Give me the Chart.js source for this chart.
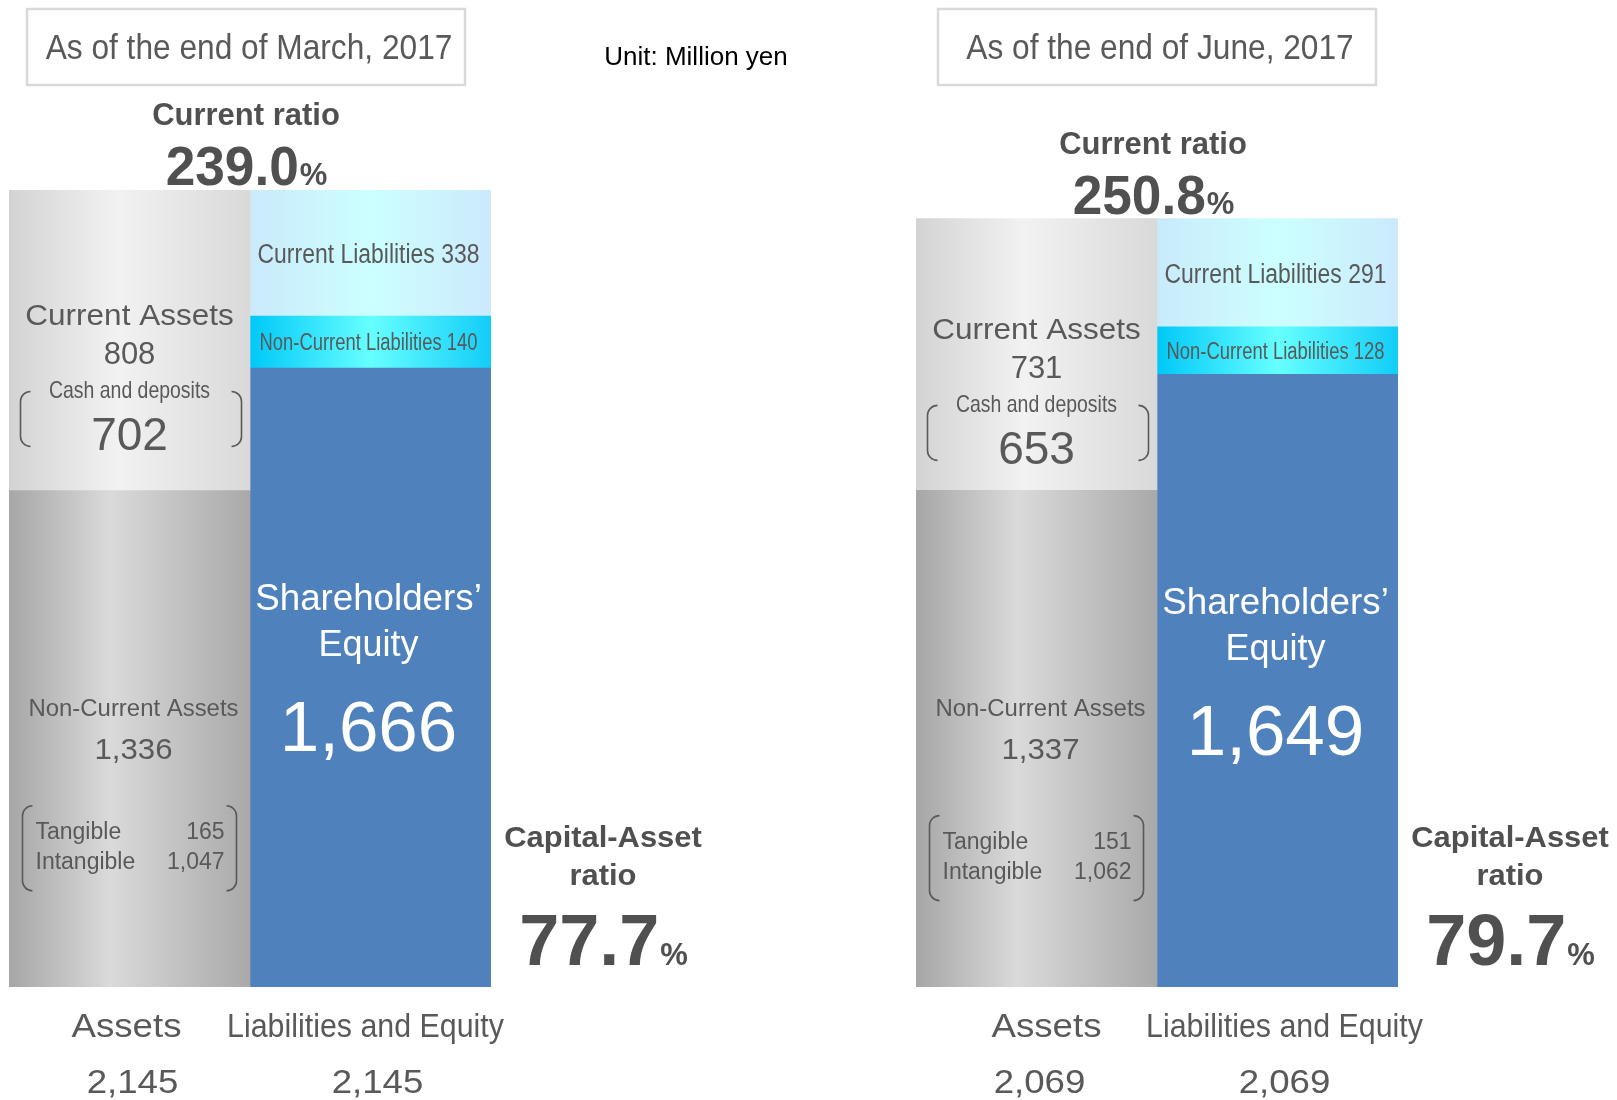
<!DOCTYPE html>
<html>
<head>
<meta charset="utf-8">
<title>Balance sheet - March / June 2017</title>
<script src="https://cdn.jsdelivr.net/npm/chart.js@4.4.1/dist/chart.umd.min.js"></script>
<style>
    body { margin: 0; background: #ffffff; }
    #wrap { position: relative; width: 1617px; height: 1100px; }
    canvas { position: absolute; left: 0; top: 0; }
</style>
</head>
<body>
<div id="wrap">
    <canvas id="march" width="1617" height="1100"></canvas>
    <canvas id="june" width="1617" height="1100"></canvas>
</div>
<script>
// Data (Unit: Million yen)
const categories = ['Assets', 'Liabilities and Equity'];
const periods = ['As of the end of March, 2017', 'As of the end of June, 2017'];
const currentAssets = [808, 731];
const cashAndDeposits = [702, 653];
const nonCurrentAssets = [1336, 1337];
const tangibleAssets = [165, 151];
const intangibleAssets = [1047, 1062];
const currentLiabilities = [338, 291];
const nonCurrentLiabilities = [140, 128];
const shareholdersEquity = [1666, 1649];
const totals = [2145, 2069];
const currentRatio = [239.0, 250.8];
const capitalAssetRatio = [77.7, 79.7];
const unitLabel = 'Unit: Million yen';

// Layout of the two panels (page pixels)
const panelBox = [
    { left: 9, right: 491, titleShift: 0, bracketShift: 0, captionShift: [-3, -5] },
    { left: 916, right: 1398, titleShift: 4, bracketShift: 10, captionShift: [10, 7] }
];
const plotTop = 190;
const plotBottom = 987;

const FONT = '"Liberation Sans", Arial, sans-serif';
const GRAY = '#595959';
const DARK = '#505050';

// gradient stops for the "cylinder" look of each block
const STOPS = {
    currentAssets: [[0, '#d3d3d3'], [0.45, '#f2f2f2'], [1, '#d9d9d9']],
    nonCurrentAssets: [[0, '#a6a6a6'], [0.42, '#dadada'], [1, '#a9a9a9']],
    currentLiabilities: [[0, '#caeafb'], [0.5, '#ccffff'], [1, '#cbeafc']],
    nonCurrentLiabilities: [[0, '#00c8f8'], [0.5, '#66ffff'], [1, '#12cdf8']]
};

function gradientFill(stops, fallback) {
    return function(c) {
        const chart = c.chart;
        const xs = chart.scales.x;
        if (!chart.chartArea || !xs) return fallback;
        const half = (xs.right - xs.left) / categories.length / 2;
        const cx = xs.getPixelForValue(c.dataIndex);
        const g = chart.ctx.createLinearGradient(cx - half, 0, cx + half, 0);
        stops.forEach(s => g.addColorStop(s[0], s[1]));
        return g;
    };
}

function fmt(n) {
    return n.toLocaleString('en-US');
}

// text with optional horizontal squeeze / stretch
function txt(ctx, s, x, y, o) {
    ctx.save();
    ctx.font = (o.bold ? 'bold ' : '') + o.size + 'px ' + FONT;
    ctx.fillStyle = o.color || GRAY;
    ctx.textBaseline = 'alphabetic';
    ctx.textAlign = o.align || 'center';
    ctx.translate(x, y);
    ctx.scale(o.sx || 1, 1);
    ctx.fillText(s, 0, 0);
    ctx.restore();
}

function textWidth(ctx, s, size, bold, sx) {
    ctx.save();
    ctx.font = (bold ? 'bold ' : '') + size + 'px ' + FONT;
    const w = ctx.measureText(s).width * (sx || 1);
    ctx.restore();
    return w;
}

// rounded bracket pair like "( ... )"
function brackets(ctx, x1, x2, y1, y2) {
    const r = 10;
    ctx.save();
    ctx.strokeStyle = GRAY;
    ctx.lineWidth = 1.6;
    ctx.beginPath();
    ctx.moveTo(x1 + r, y1);
    ctx.arcTo(x1, y1, x1, y1 + r, r);
    ctx.lineTo(x1, y2 - r);
    ctx.arcTo(x1, y2, x1 + r, y2, r);
    ctx.moveTo(x2 - r, y1);
    ctx.arcTo(x2, y1, x2, y1 + r, r);
    ctx.lineTo(x2, y2 - r);
    ctx.arcTo(x2, y2, x2 - r, y2, r);
    ctx.stroke();
    ctx.restore();
}

// big number followed by a smaller "%"
function ratioText(ctx, value, cx, y, size, pctSize, sx) {
    const num = value.toFixed(1);
    const wn = textWidth(ctx, num, size, true, sx);
    const wp = textWidth(ctx, '%', pctSize, true);
    const x0 = cx - (wn + wp) / 2;
    txt(ctx, num, x0, y, { size: size, bold: true, color: DARK, align: 'left', sx: sx });
    txt(ctx, '%', x0 + wn + 1, y, { size: pctSize, bold: true, color: DARK, align: 'left' });
}

const balanceLabels = {
    id: 'balanceLabels',
    afterDatasetsDraw(chart, args, opts) {
        const p = opts.panel;
        const box = panelBox[p];
        const ctx = chart.ctx;
        const area = chart.chartArea;
        const seg = (ds, i) => chart.getDatasetMeta(ds).data[i].getProps(['x', 'y', 'base', 'width'], true);
        const nca = seg(0, 0), ca = seg(1, 0), eq = seg(2, 1), ncl = seg(3, 1), cl = seg(4, 1);
        const mid = s => (s.y + s.base) / 2;
        const center = (area.left + area.right) / 2 - 4;

        // title box
        const tc = center + box.titleShift;
        ctx.save();
        ctx.strokeStyle = '#d9d9d9';
        ctx.lineWidth = 2.5;
        ctx.strokeRect(tc - 219, 9, 438, 76);
        ctx.restore();
        txt(ctx, periods[p], tc + 3, 59, { size: 35, sx: 0.905 });

        if (p === 0) {
            txt(ctx, unitLabel, 696, 65, { size: 26, color: '#000000' });
        }

        // current ratio above the stack
        const top = Math.min(ca.y, cl.y);
        txt(ctx, 'Current ratio', center, top - 65, { size: 31, bold: true, color: DARK });
        ratioText(ctx, currentRatio[p], center, top - 5, 56, 31, 0.95);

        // current assets
        let cx = ca.x, cy = mid(ca) - 6;
        txt(ctx, 'Current Assets', cx, cy - 9, { size: 30, sx: 1.05 });
        txt(ctx, fmt(currentAssets[p]), cx, cy + 30, { size: 31 });
        txt(ctx, 'Cash and deposits', cx, cy + 64, { size: 24, sx: 0.81 });
        txt(ctx, fmt(cashAndDeposits[p]), cx, cy + 116, { size: 46 });
        brackets(ctx, cx - 109, cx + 112, cy + 57, cy + 112);

        // non-current assets
        cx = nca.x; cy = mid(nca) - 6;
        txt(ctx, 'Non-Current Assets', cx + 4, cy - 17, { size: 23, sx: 1.04 });
        txt(ctx, fmt(nonCurrentAssets[p]), cx + 4, cy + 26, { size: 30, sx: 1.04 });
        const by = box.bracketShift;
        brackets(ctx, cx - 107, cx + 107, cy + 73 + by, cy + 158 + by);
        txt(ctx, 'Tangible', cx - 94, cy + 106 + by, { size: 23, align: 'left' });
        txt(ctx, fmt(tangibleAssets[p]), cx + 95, cy + 106 + by, { size: 23, align: 'right' });
        txt(ctx, 'Intangible', cx - 94, cy + 136 + by, { size: 23, align: 'left' });
        txt(ctx, fmt(intangibleAssets[p]), cx + 95, cy + 136 + by, { size: 23, align: 'right' });

        // liabilities
        txt(ctx, 'Current Liabilities ' + fmt(currentLiabilities[p]), cl.x - 2, mid(cl) + 10, { size: 27, sx: 0.85 });
        txt(ctx, 'Non-Current Liabilities ' + fmt(nonCurrentLiabilities[p]), ncl.x - 2, mid(ncl) + 8, { size: 23, sx: 0.8 });

        // equity
        cy = mid(eq);
        txt(ctx, 'Shareholders\u2019', eq.x - 2, cy - 67, { size: 36, color: '#ffffff', sx: 1.02 });
        txt(ctx, 'Equity', eq.x - 2, cy - 21, { size: 36, color: '#ffffff' });
        txt(ctx, fmt(shareholdersEquity[p]), eq.x - 2, cy + 74, { size: 71, color: '#ffffff' });

        // bottom captions with totals
        const b = area.bottom;
        const cs = box.captionShift;
        txt(ctx, categories[0], nca.x + cs[0], b + 50, { size: 33, sx: 1.11 });
        txt(ctx, fmt(totals[p]), nca.x + 3, b + 106, { size: 33, sx: 1.11 });
        txt(ctx, categories[1], eq.x + cs[1], b + 50, { size: 33, sx: 0.92 });
        txt(ctx, fmt(totals[p]), eq.x + 7, b + 106, { size: 33, sx: 1.11 });

        // capital-asset ratio to the right
        const rx = area.right + 112;
        txt(ctx, 'Capital-Asset', rx, b - 140, { size: 30, bold: true, color: DARK, sx: 1.03 });
        txt(ctx, 'ratio', rx, b - 102, { size: 30, bold: true, color: DARK, sx: 1.03 });
        ratioText(ctx, capitalAssetRatio[p], rx, b - 22, 72, 31, 1);
    }
};

function makeChart(canvasId, p) {
    const box = panelBox[p];
    return new Chart(document.getElementById(canvasId), {
        type: 'bar',
        data: {
            labels: categories,
            datasets: [
                { label: 'Non-Current Assets', data: [nonCurrentAssets[p], null],
                  backgroundColor: gradientFill(STOPS.nonCurrentAssets, '#c0c0c0') },
                { label: 'Current Assets', data: [currentAssets[p], null],
                  backgroundColor: gradientFill(STOPS.currentAssets, '#e6e6e6') },
                { label: 'Shareholders\u2019 Equity', data: [null, shareholdersEquity[p]],
                  backgroundColor: '#4f81bd' },
                { label: 'Non-Current Liabilities', data: [null, nonCurrentLiabilities[p]],
                  backgroundColor: gradientFill(STOPS.nonCurrentLiabilities, '#33e6ff') },
                { label: 'Current Liabilities', data: [null, currentLiabilities[p]],
                  backgroundColor: gradientFill(STOPS.currentLiabilities, '#ccf6ff') }
            ]
        },
        options: {
            responsive: false,
            animation: false,
            events: [],
            layout: {
                padding: {
                    left: box.left,
                    right: 1617 - box.right,
                    top: plotTop,
                    bottom: 1100 - plotBottom
                }
            },
            datasets: {
                bar: { categoryPercentage: 1, barPercentage: 1, borderWidth: 0 }
            },
            plugins: {
                legend: { display: false },
                tooltip: { enabled: false },
                balanceLabels: { panel: p }
            },
            scales: {
                x: { stacked: true, display: false },
                y: { stacked: true, display: false, min: 0, max: Math.max(...totals) }
            }
        },
        plugins: [balanceLabels]
    });
}

makeChart('march', 0);
makeChart('june', 1);
</script>
</body>
</html>
